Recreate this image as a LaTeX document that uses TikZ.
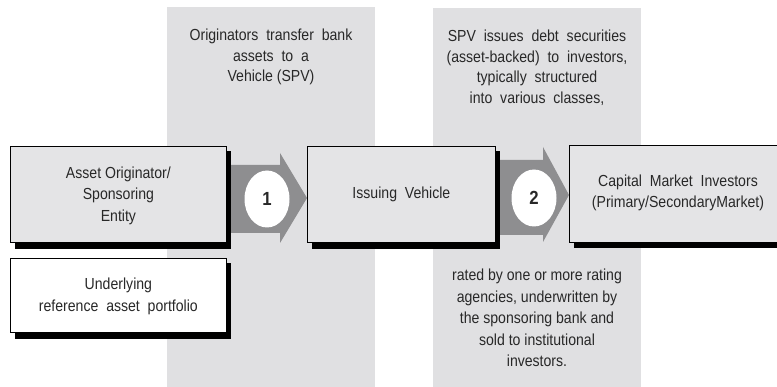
\documentclass[tikz,border=0pt]{standalone}
\usepackage{fontspec}
\setmainfont{Liberation Sans}[FakeStretch=0.88]
\usetikzlibrary{shapes.geometric}
\definecolor{colbg}{HTML}{E0E0E2}
\definecolor{boxfill}{HTML}{E4E4E6}
\definecolor{arrowgray}{HTML}{8E8E90}
\definecolor{txt}{HTML}{282828}
\tikzset{
  stage/.style={draw=black, line width=0.8pt, fill=boxfill, text=txt, align=center, inner sep=0pt},
  shadowbox/.style={fill=black},
  colbox/.style={fill=colbg},
  lbl/.style={text=txt, align=center, font=\fontsize{16}{21.5}\selectfont, inner sep=0pt},
  note/.style={text=txt, align=center, font=\fontsize{16}{20.5}\selectfont, inner sep=0pt},
  numcirc/.style={ellipse, fill=white, minimum width=45pt, minimum height=57pt, inner sep=0pt, font=\bfseries\fontsize{19}{19}\selectfont, text=txt},
  bigarrow/.style={fill=arrowgray}
}
\begin{document}
\begin{tikzpicture}[x=1pt,y=-1pt]
\useasboundingbox (0,0) rectangle (777,387);
% columns
\fill[colbox] (167,7) rectangle (375,387);
\fill[colbox] (433,8) rectangle (641,387);
% arrows
\fill[bigarrow] (226,165) -- (280,165) -- (280,153) -- (307,198) -- (280,243) -- (280,233) -- (226,233) -- cycle;
\fill[bigarrow] (495,160) -- (543,160) -- (543,147) -- (569,195) -- (543,242) -- (543,235) -- (495,235) -- cycle;
% shadows
\fill[shadowbox] (15,151) rectangle (231,249);
\fill[shadowbox] (15,263) rectangle (231,339);
\fill[shadowbox] (312,151) rectangle (500,249);
\fill[shadowbox] (574,150) rectangle (777,248);
% boxes
\node[stage, minimum width=216pt, minimum height=96pt, anchor=north west] (orig) at (10,146) {};
\node[lbl] (origt) at ([yshift=-1pt]orig.center) {Asset Originator/\\Sponsoring\\Entity};
\node[stage, fill=white, minimum width=216pt, minimum height=74pt, anchor=north west] (under) at (10,258) {};
\node[lbl] (undert) at ([yshift=-1pt]under.center) {Underlying\\reference\ \ asset\ \ portfolio};
\node[stage, minimum width=188pt, minimum height=96pt, anchor=north west, font=\fontsize{16}{21}\selectfont] (spv) at (307,146) {Issuing\ \ Vehicle};
\node[stage, minimum width=215pt, minimum height=97pt, anchor=north west] (cap) at (569,145) {};
\node[lbl] (capt) at (678,193) {Capital\ \ Market\ \ Investors\\(Primary/SecondaryMarket)};
% circles
\node[numcirc] (c1) at (267,199) {1};
\node[numcirc] (c2) at (534,198) {2};
% notes
\node[note, anchor=north] (n1) at (271,29) {Originators\ \ transfer\ \ bank\\assets\ \ to\ \ a\\Vehicle (SPV)};
\node[note, anchor=north] (n2) at (537,30) {SPV\ \ issues\ \ debt\ \ securities\\(asset-backed)\ \ to\ \ investors,\\typically\ \ structured\\into\ \ various\ \ classes,};
\node[note, anchor=north, font=\fontsize{16}{21.5}\selectfont] (n3) at (537,269) {rated by one or more rating\\agencies, underwritten by\\the sponsoring bank and\\sold to institutional\\investors.};
\end{tikzpicture}
\end{document}
